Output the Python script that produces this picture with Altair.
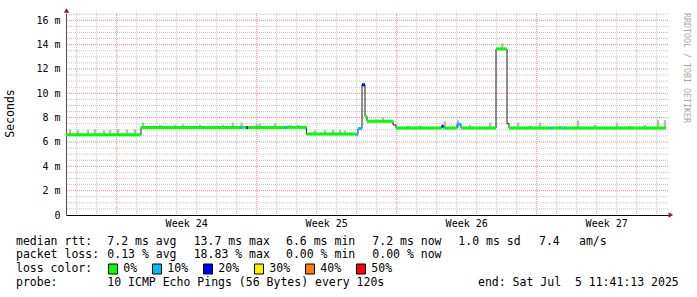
import altair as alt
import pandas as pd

# ---------------- data (days from chart start, milliseconds) ----------------
seg_start = [0.0, 3.75, 6.85, 6.9, 8.7, 8.8, 9.02, 9.1, 10.95, 11.05,
             12.02, 14.5, 14.6, 14.8, 14.95, 15.05, 16.35, 16.5, 18.78, 18.88,
             19.55, 19.75, 21.5, 22.05, 22.15, 24.2, 24.3, 24.9, 25.0]
seg_median = [6.6, 7.2, 7.2, 7.2, 7.2, 7.2, 7.2, 7.2, 7.2, 7.2,
              6.65, 6.6, 7.1, 10.7, 8.1, 7.7, 7.4, 7.15, 7.3, 7.15,
              7.45, 7.15, 13.65, 7.5, 7.15, 7.15, 7.15, 7.15, 7.15]
seg_loss = ["0%", "0%", "10%", "0%", "10%", "0%", "20%", "0%", "10%", "0%",
            "0%", "10%", "10%", "20%", "0%", "0%", "", "0%", "20%", "0%",
            "10%", "0%", "0%", "", "0%", "10%", "0%", "10%", "0%"]
end_day = 30.0

smoke_day = [0.2, 0.6, 1.1, 1.45, 1.9, 2.2, 2.6, 3.05, 3.45,
             3.85, 4.7, 5.45, 5.85, 6.7, 7.85, 8.35, 8.78, 9.55, 9.7, 10.45, 11.2, 11.6,
             12.45, 12.95, 13.35, 13.7, 13.95,
             15.45, 15.85,
             17.1, 17.7, 18.95, 19.6, 20.2, 21.2,
             21.8,
             22.6, 23.2, 23.7, 24.7, 25.6, 26.45, 27.55, 28.2, 28.95, 29.6, 29.95]
smoke_lo = [6.6, 6.6, 6.6, 6.6, 6.6, 6.6, 6.6, 6.6, 6.6,
            7.2, 7.2, 7.2, 7.2, 7.2, 7.2, 7.2, 7.2, 7.2, 7.2, 7.2, 7.2, 7.2,
            6.65, 6.65, 6.65, 6.65, 6.65,
            7.7, 7.7,
            7.15, 7.15, 7.15, 7.15, 7.15, 7.15,
            13.65,
            7.15, 7.15, 7.15, 7.15, 7.15, 7.15, 7.15, 7.15, 7.15, 7.15, 7.15]
smoke_hi = [7.0, 6.95, 7.0, 7.05, 6.95, 7.0, 7.05, 7.0, 7.05,
            7.6, 7.4, 7.4, 7.45, 7.4, 7.4, 7.6, 7.6, 7.45, 7.5, 7.5, 7.4, 7.4,
            6.95, 6.95, 7.0, 7.0, 6.95,
            7.85, 8.05,
            7.35, 7.35, 7.7, 7.8, 7.4, 7.6,
            14.1,
            7.6, 7.35, 7.6, 7.35, 7.75, 7.4, 7.6, 7.35, 7.4, 7.8, 7.8]

y_ticks = [0, 2, 4, 6, 8, 10, 12, 14, 16]
y_minor = [0.5, 1, 1.5, 2.5, 3, 3.5, 4.5, 5, 5.5, 6.5, 7, 7.5, 8.5, 9, 9.5,
           10.5, 11, 11.5, 12.5, 13, 13.5, 14.5, 15, 15.5, 16.5]
y_major = [2, 4, 6, 8, 10, 12, 14, 16]
week_bounds = [2.535, 9.535, 16.535, 23.535]
day_lines = [0.535, 1.535, 3.535, 4.535, 5.535, 6.535, 7.535, 8.535,
             10.535, 11.535, 12.535, 13.535, 14.535, 15.535,
             17.535, 18.535, 19.535, 20.535, 21.535, 22.535,
             24.535, 25.535, 26.535, 27.535, 28.535, 29.535]
week_mid = [6.035, 13.035, 20.035, 27.035]
week_labels = ["Week 24", "Week 25", "Week 26", "Week 27"]

loss_labels = ["0%", "10%", "20%", "30%", "40%", "50%"]
loss_colors = ["#00ff00", "#00b8ff", "#0000ff", "#ffee00", "#ff7f00", "#ff0000"]

rtt_stats = ["7.2", "13.7", "6.6", "7.2", "1.0"]
rtt_names = ["avg", "max", "min", "now", "sd"]
loss_stats = ["0.13", "18.83", "0.00", "0.00"]
loss_names = ["avg", "max", "min", "now"]
am_s = "7.4"
probe_text = "10 ICMP Echo Pings (56 Bytes) every 120s"
end_text = "end: Sat Jul  5 11:41:13 2025"
watermark = "RRDTOOL / TOBI OETIKER"

# ---------------- layout ----------------
L, T, W, H = 66, 13, 602, 202
MONO = "DejaVu Sans Mono"
XDOM = [0, 30.1]
YDOM = [0, 16.6]

xscale = alt.Scale(domain=XDOM, nice=False, zero=False)
yscale = alt.Scale(domain=YDOM, nice=False, zero=False)
xaxis = alt.Axis(labels=False, ticks=False, grid=False, title=None,
                 domainColor="#000000", domainWidth=1)
yaxis = alt.Axis(values=y_ticks, ticks=False, grid=False,
                 labelExpr="datum.value == 0 ? '0' : datum.value + ' m'",
                 labelFont=MONO, labelFontSize=10, labelColor="#000000",
                 labelPadding=6, domainColor="#555555", domainWidth=1,
                 title="Seconds", titleFont=MONO, titleFontSize=11.5,
                 titleFontWeight="normal", titleColor="#000000",
                 titleX=-55.5, titleY=100, titleAlign="center",
                 titleBaseline="middle")


def X(field):
    return alt.X(field, type="quantitative", scale=xscale, axis=xaxis)


def Y(field):
    return alt.Y(field, type="quantitative", scale=yscale, axis=yaxis)


one = pd.DataFrame({"a": [0]})


def keep_spaces(s):
    return s.replace("  ", " \u00a0")


def txt(x, y, s, size=11.5, color="#000000", align="left", angle=None):
    kw = dict(text=keep_spaces(s), font=MONO, fontSize=size, color=color,
              align=align, baseline="middle")
    if angle:
        kw["angle"] = angle
    return alt.Chart(one).mark_text(**kw).encode(
        x=alt.value(x - L), y=alt.value(y - T))


layers = []

# grid
layers.append(alt.Chart(pd.DataFrame({"v": y_minor})).mark_rule(
    stroke="#c4c4c4", strokeDash=[1, 1], strokeWidth=1).encode(y=Y("v")))
layers.append(alt.Chart(pd.DataFrame({"d": day_lines})).mark_rule(
    stroke="#c4c4c4", strokeDash=[1, 1], strokeWidth=1).encode(x=X("d")))
layers.append(alt.Chart(pd.DataFrame({"v": y_major})).mark_rule(
    stroke="#e08a8a", strokeDash=[1, 1], strokeWidth=1).encode(y=Y("v")))
layers.append(alt.Chart(pd.DataFrame({"d": week_bounds})).mark_rule(
    stroke="#e08a8a", strokeDash=[1, 1], strokeWidth=1).encode(x=X("d")))

# smoke
smoke_df = pd.DataFrame({"day": smoke_day, "lo": smoke_lo, "hi": smoke_hi})
layers.append(alt.Chart(smoke_df).mark_rule(
    stroke="#b9b9b9", strokeWidth=2.5).encode(x=X("day"), y=Y("lo"), y2="hi"))

# median black step line
line_df = pd.DataFrame({"day": seg_start + [end_day],
                        "ms": seg_median + [seg_median[-1]]})
layers.append(alt.Chart(line_df).mark_line(
    interpolate="step-after", color="#202020", strokeWidth=1).encode(
    x=X("day"), y=Y("ms")))

# colored median segments by loss
seg_end = seg_start[1:] + [end_day]
seg_df = pd.DataFrame({"start": seg_start, "end": seg_end,
                       "ms": seg_median, "loss": seg_loss})
seg_df = seg_df[seg_df["loss"] != ""]
layers.append(alt.Chart(seg_df).mark_rule(
    strokeWidth=3, strokeCap="butt").encode(
    x=X("start"), x2="end", y=Y("ms"),
    color=alt.Color("loss:N", scale=alt.Scale(domain=loss_labels,
                                              range=loss_colors),
                    legend=None)))

# week labels
wk_df = pd.DataFrame({"mid": week_mid, "label": week_labels})
layers.append(alt.Chart(wk_df).mark_text(
    font=MONO, fontSize=10, color="#000000", baseline="middle",
    align="center").encode(x=X("mid"), y=alt.value(224.3 - T), text="label:N"))

# arrows
layers.append(alt.Chart(one).mark_point(
    shape="triangle-up", filled=True, size=28, color="#8b1c1c", opacity=1).encode(
    x=alt.value(66.5 - L), y=alt.value(10.5 - T)))
layers.append(alt.Chart(one).mark_point(
    shape="triangle-right", filled=True, size=28, color="#8b1c1c", opacity=1).encode(
    x=alt.value(670.8 - L), y=alt.value(215 - T)))

# watermark
layers.append(txt(686, 68, watermark, size=8.3, color="#a8a8a8",
                  align="center", angle=90))

# legend rows
r1, r2, r3, r4 = 241.7, 255.0, 269.3, 282.7
cols = [107.3, 193.7, 286.0, 372.3, 458.3]
layers.append(txt(16, r1, "median rtt:"))
for c, v, n in zip(cols, rtt_stats, rtt_names):
    layers.append(txt(c, r1, f"{v} ms {n}"))
layers.append(txt(539, r1, am_s))
layers.append(txt(579, r1, "am/s"))

layers.append(txt(16, r2, "packet loss:"))
for c, v, n in zip(cols, loss_stats, loss_names):
    layers.append(txt(c, r2, f"{v} % {n}"))

layers.append(txt(16, r3, "loss color:"))
sq_left = [108.5, 152.5, 203.5, 254.5, 305.5, 356.5]
for sx, lab, colr in zip(sq_left, loss_labels, loss_colors):
    layers.append(alt.Chart(one).mark_rect(
        fill=colr, stroke="#000000", strokeWidth=1).encode(
        x=alt.value(sx - L), x2=alt.value(sx + 9 - L),
        y=alt.value(264 - T), y2=alt.value(274 - T)))
    layers.append(txt(sx + 14.8, r3, lab))

layers.append(txt(16, r4, "probe:"))
layers.append(txt(107.3, r4, probe_text))
layers.append(txt(478, r4, end_text))

chart = alt.layer(*layers).properties(
    width=W, height=H,
    autosize=alt.AutoSizeParams(type="none"),
    padding={"left": L, "top": T, "right": 697 - L - W, "bottom": 297 - T - H},
    background="#ffffff",
).configure_view(strokeWidth=0)

chart.save("out.html", embed_options={"renderer": "svg", "actions": False})
